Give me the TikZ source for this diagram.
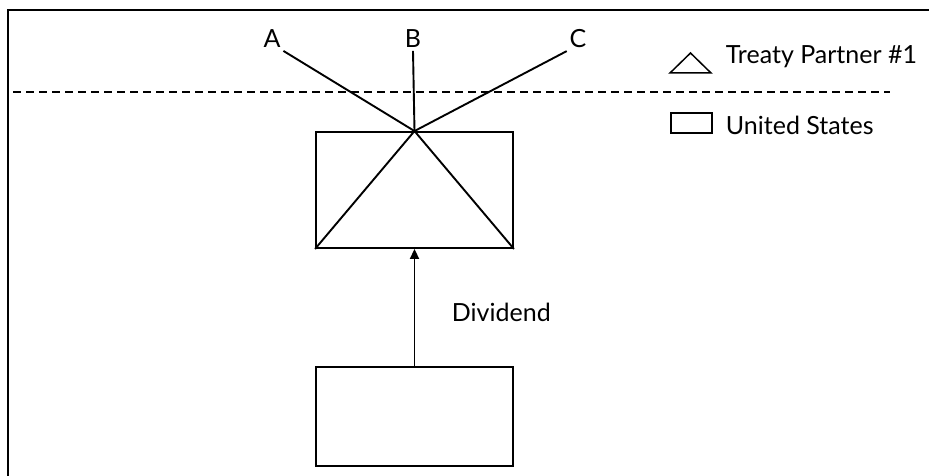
\documentclass[tikz,border=0pt]{standalone}
\usepackage{fontspec}
\setmainfont{Lato}
\usetikzlibrary{arrows.meta}
\begin{document}
\begin{tikzpicture}[x=1pt,y=-1pt,
  line width=1.9pt,
  lbl/.style={font=\fontsize{25}{27}\selectfont, inner sep=2pt},
  box/.style={draw, minimum width=197pt, inner sep=0pt},
  frameline/.style={line width=2pt},
  divline/.style={dashed, dash pattern=on 8pt off 5pt, line width=1.5pt}]
\useasboundingbox (0,0) rectangle (929,476);
% frame (only top and left edges visible)
\draw[frameline] (8,476) -- (8,10) -- (929,10);
% dashed border line
\coordinate (dl) at (13,92);
\coordinate (dr) at (890,92);
\draw[divline] (dl) -- (dr);
% boxes
\node[box, minimum height=116pt] (us1) at (414.5,190) {};
\node[box, minimum height=99pt] (us2) at (414.5,416.5) {};
% triangle inside upper box
\draw (us1.south west) -- (us1.north) -- (us1.south east);
% labels A B C
\node[lbl] (A) at (272,39) {A};
\node[lbl] (B) at (413,39) {B};
\node[lbl] (C) at (578,39) {C};
\draw (A.south east) -- (us1.north);
\draw (B.south) -- (us1.north);
\draw (C.south west) -- (us1.north);
% dividend arrow
\draw[-{Triangle[length=10pt,width=9pt]}] (us2.north) -- (us1.south);
\node[lbl, anchor=west] (div) at (449,312) {Dividend};
% legend
\node[draw, line width=1.5pt, minimum width=41pt, minimum height=20pt, inner sep=0pt] (lbox) at (691.5,123) {};
\coordinate (tl) at (670,73);
\coordinate (tr) at (711,73);
\coordinate (tt) at (690.5,53);
\draw[line width=1.5pt] (tl) -- (tt) -- (tr) -- cycle;
\node[lbl, anchor=west] (tp) at (723,57) {Treaty Partner \#1};
\node[lbl, anchor=west] (usl) at (723,125) {United States};
\end{tikzpicture}
\end{document}
